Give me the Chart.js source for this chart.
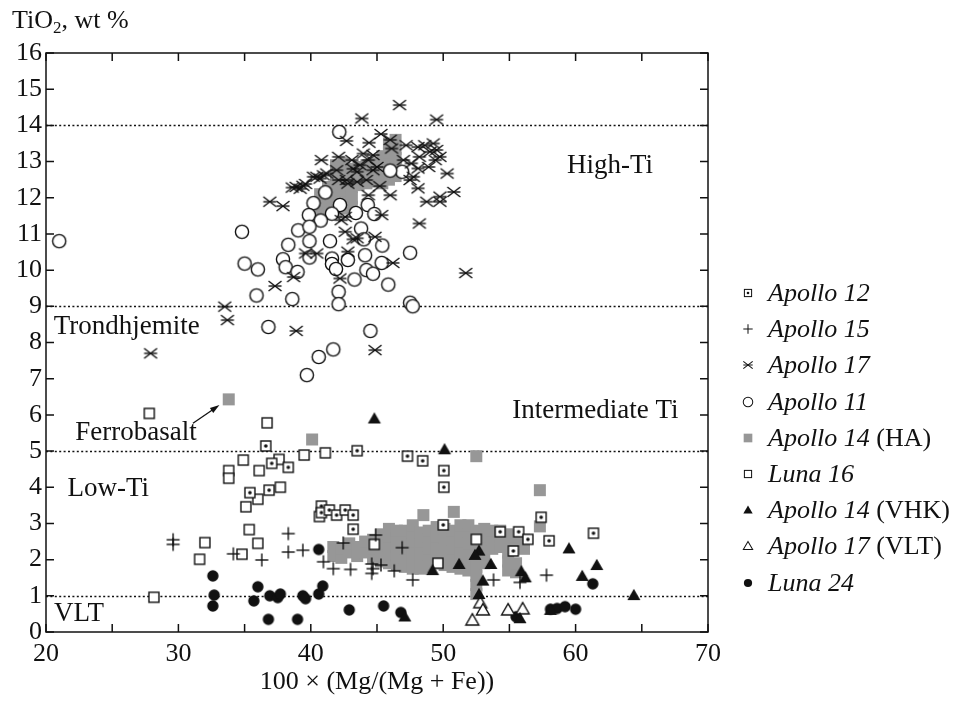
<!DOCTYPE html>
<html lang="en">
<head>
  <meta charset="UTF-8">
  <title>TiO2 vs Mg#</title>
  <script src="https://cdn.jsdelivr.net/npm/chart.js"></script>
  <style>
    body {
      margin: 0;
      background: #fff;
      font-family: "Liberation Serif", "Times New Roman", serif;
      color: #111;
    }
    #wrap {
      position: relative;
      width: 956px;
      height: 701px;
    }
    #ytitle {
      position: absolute;
      left: 12px;
      top: 7px;
      font-size: 26px;
      line-height: 1;
    }
    #ytitle sub {
      font-size: 17px;
      vertical-align: -5px;
    }
    #legend {
      position: absolute;
      left: 738px;
      top: 275px;
    }
    .row {
      height: 36.2px;
      display: flex;
      align-items: center;
      font-size: 26px;
      white-space: nowrap;
    }
  </style>
</head>
<body>
<div id="wrap">
  <canvas id="chart" width="956" height="701"></canvas>
  <div id="ytitle">TiO<sub>2</sub>, wt %</div>
  <div id="legend"></div>
</div>

<script>
// data: [100*Mg/(Mg+Fe), TiO2 wt%]
const apollo12 = [[36.6,5.14],[37.05,4.66],[38.3,4.55],[35.4,3.85],[36.85,3.92],[40.8,3.48],[40.8,3.3],
  [41.4,3.37],[41.95,3.23],[42.6,3.37],[43.2,3.23],[43.2,2.84],[43.5,5.01],[47.3,4.86],[48.45,4.73],
  [50.05,4.46],[50.05,4.0],[50.0,2.96],[54.3,2.77],[55.7,2.77],[56.4,2.56],[55.3,2.24],[57.4,3.17],
  [58.0,2.52],[61.35,2.73]];
const apollo15 = [[29.6,2.55],[29.6,2.42],[34.15,2.16],[36.3,1.99],[38.3,2.72],[38.3,2.21],[39.4,2.26],
  [40.95,1.94],[41.7,1.75],[43.0,1.73],[42.45,2.46],[44.6,1.62],[44.7,1.75],[44.6,1.88],[44.9,2.68],
  [45.3,1.85],[46.9,2.33],[46.3,1.69],[47.7,1.44],[53.8,1.44],[55.8,1.37],[57.8,1.57]];
const apollo17 = [[46.7,14.56],[43.85,14.19],[49.5,14.16],[42.7,13.57],[45.3,13.76],[44.4,13.52],[46.0,13.6],
  [46.1,13.36],[47.2,13.45],[48.1,13.4],[48.6,13.45],[49.25,13.5],[49.0,13.27],[49.5,13.32],[49.75,13.13],
  [50.3,12.67],[50.8,12.16],[49.75,12.03],[49.75,11.89],[48.75,11.89],[48.2,11.29],[36.9,11.89],[37.9,11.77],
  [38.6,12.28],[38.9,12.3],[39.2,12.25],[39.4,12.33],[39.6,12.38],[40.8,13.04],[40.45,12.58],[40.95,12.62],
  [41.2,12.67],[42.1,13.13],[41.95,12.76],[43.1,13.04],[43.97,13.22],[44.35,13.04],[44.7,13.18],[45.0,12.85],
  [43.2,12.8],[43.7,12.9],[42.8,12.39],[42.1,12.49],[43.5,12.44],[44.2,12.49],[45.2,12.32],[46.0,12.07],
  [47.0,13.04],[47.6,12.95],[48.1,12.81],[48.2,13.13],[47.5,12.49],[47.75,12.58],[48.1,12.26],[48.9,12.85],
  [49.4,13.04],[44.35,12.07],[45.35,11.52],[42.6,11.47],[42.3,11.38],[42.6,11.06],[43.5,10.88],[44.85,10.92],
  [39.6,10.46],[40.45,10.46],[42.8,10.51],[46.2,10.2],[51.7,9.92],[43.2,10.85],[42.2,9.77],[37.3,9.56],
  [38.7,9.81],[33.5,8.99],[33.7,8.62],[38.9,8.32],[44.85,7.79],[27.9,7.7],[43.5,12.72],[44.7,12.76],
  [40.2,12.58],[40.7,12.53],[42.7,12.49]];
const apollo11 = [[21.0,10.8],[42.15,13.82],[46.9,12.72],[46.0,12.75],[41.1,12.15],[40.2,11.85],[42.2,11.8],
  [44.3,11.8],[43.4,11.58],[44.8,11.55],[39.85,11.52],[41.6,11.56],[40.75,11.37],[34.8,11.06],[39.05,11.1],
  [39.9,11.2],[43.8,11.15],[44.0,10.85],[38.3,10.7],[39.9,10.8],[41.45,10.8],[45.4,10.68],[47.5,10.48],
  [35.0,10.18],[36.0,10.02],[37.9,10.3],[38.1,10.08],[39.0,9.95],[39.9,10.35],[41.6,10.32],[41.6,10.17],
  [42.8,10.28],[44.1,10.41],[45.35,10.2],[41.9,10.03],[43.3,9.74],[44.2,10.0],[44.7,9.9],[45.85,9.6],
  [35.9,9.3],[38.6,9.2],[42.1,9.4],[42.1,9.06],[47.5,9.1],[47.7,9.0],[36.8,8.43],[44.5,8.32],[41.7,7.81],
  [40.6,7.6],[39.7,7.1]];
// Apollo 14 high-alumina: squares overlap into grey patches
const apollo14HA = [
  [41.7,2.1],[41.7,2.35],[42.3,2.05],[42.3,2.3],[42.9,2.2],[42.9,2.45],[43.5,2.1],[43.5,2.35],
  [44.1,2.2],[44.1,2.5],[44.7,2.05],[44.7,2.3],[44.7,2.55],[45.3,1.95],[45.3,2.2],[45.3,2.45],[45.3,2.7],
  [45.9,1.9],[45.9,2.15],[45.9,2.4],[45.9,2.65],[45.9,2.85],[46.5,1.85],[46.5,2.1],[46.5,2.35],[46.5,2.6],
  [46.5,2.8],[47.1,1.8],[47.1,2.05],[47.1,2.3],[47.1,2.55],[47.1,2.8],[47.7,1.75],[47.7,2.0],[47.7,2.25],
  [47.7,2.5],[47.7,2.75],[47.7,2.95],[48.3,1.75],[48.3,2.0],[48.3,2.25],[48.3,2.5],[48.3,2.75],[48.5,3.23],
  [48.9,1.8],[48.9,2.05],[48.9,2.3],[48.9,2.55],[48.9,2.8],[49.5,1.9],[49.5,2.15],[49.5,2.4],[49.5,2.65],
  [49.5,2.9],[50.1,1.85],[50.1,2.1],[50.1,2.35],[50.1,2.6],[50.1,2.85],[50.8,3.32],[50.7,1.8],[50.7,2.05],
  [50.7,2.3],[50.7,2.55],[50.7,2.8],[51.3,1.75],[51.3,2.0],[51.3,2.25],[51.3,2.5],[51.3,2.75],[51.3,2.95],
  [51.9,1.7],[51.9,1.95],[51.9,2.2],[51.9,2.45],[51.9,2.7],[51.9,2.95],[52.5,1.05],[52.5,1.3],[52.5,1.55],
  [52.5,1.8],[52.5,2.05],[52.5,2.3],[52.5,2.55],[52.5,2.8],[53.1,1.9],[53.1,2.15],[53.1,2.4],[53.1,2.65],
  [53.1,2.85],[53.7,2.3],[53.7,2.55],[53.7,2.8],[54.3,2.35],[54.3,2.6],[54.3,2.8],[54.9,1.7],[54.9,1.95],
  [54.9,2.2],[54.9,2.45],[54.9,2.7],[55.5,1.65],[55.5,1.9],[55.5,2.4],[55.5,2.65],[56.1,2.3],[56.1,2.55],
  [57.3,2.92],[52.5,4.86],[57.3,3.92],[33.8,6.43],[40.1,5.32],
  [40.7,11.6],[40.7,11.85],[40.7,12.1],[41.3,11.55],[41.3,11.8],[41.3,12.05],[41.3,12.3],[41.9,11.6],
  [41.9,11.85],[41.9,12.1],[41.9,12.4],[41.9,12.65],[41.9,12.9],[42.5,11.7],[42.5,11.95],[42.5,12.2],
  [42.5,12.45],[42.5,12.7],[42.5,12.95],[43.1,11.75],[43.1,12.0],[43.1,12.3],[43.1,12.55],[43.1,12.8],
  [43.6,12.35],[43.6,12.6],[43.6,12.85],[44.2,12.4],[44.2,12.65],[44.2,12.9],[44.8,12.45],[44.8,12.7],
  [44.8,12.95],[45.4,12.4],[45.4,12.65],[45.4,12.9],[45.4,13.15],[45.9,12.5],[45.9,12.75],[45.9,13.0],
  [45.9,13.25],[45.9,13.5],[46.4,12.6],[46.4,12.85],[46.4,13.1],[46.4,13.35],[46.4,13.6]];
const luna16 = [[27.8,6.04],[36.7,5.78],[39.5,4.89],[41.1,4.95],[34.9,4.75],[33.8,4.46],[33.8,4.25],[36.1,4.46],
  [37.6,4.77],[37.7,4.0],[36.0,3.67],[35.1,3.46],[35.35,2.83],[36.0,2.45],[34.8,2.15],[32.0,2.47],[31.6,2.01],
  [28.15,0.96],[40.65,3.19],[52.5,2.56],[49.6,1.9],[44.8,2.42]];
const apollo14VHK = [[44.8,5.9],[50.1,5.05],[59.5,2.31],[52.7,2.25],[52.4,2.13],[51.2,1.88],[49.2,1.71],
  [53.6,1.88],[55.9,1.68],[56.2,1.51],[53.0,1.42],[52.7,1.05],[60.5,1.55],[61.6,1.85],[64.4,1.02],
  [55.8,0.38],[58.1,0.61],[47.1,0.43]];
const apollo17VLT = [[52.8,0.81],[53.0,0.61],[52.2,0.33],[54.9,0.61],[56.0,0.64]];
const luna24 = [[32.6,1.55],[32.7,1.02],[32.6,0.72],[36.0,1.25],[35.7,0.86],[36.9,1.0],[37.5,0.95],[37.7,1.05],
  [36.8,0.35],[39.0,0.35],[39.4,1.0],[39.6,0.92],[40.6,1.05],[40.9,1.27],[40.6,2.28],[42.9,0.61],[45.5,0.72],
  [46.8,0.54],[55.5,0.42],[58.1,0.63],[58.6,0.65],[59.2,0.7],[60.0,0.63],[61.3,1.33]];

const boundaries = [1, 5, 9, 14];
const xTicks = [20, 30, 40, 50, 60, 70];
const regionLabels = [
  { text: 'High-Ti', x: 62.6, y: 12.87 },
  { text: 'Trondhjemite', x: 26.1, y: 8.43 },
  { text: 'Intermediate Ti', x: 61.5, y: 6.1 },
  { text: 'Ferrobasalt', x: 26.8, y: 5.5 },
  { text: 'Low-Ti', x: 24.7, y: 3.95 },
  { text: 'VLT', x: 22.5, y: 0.5 }
];
const arrowFrom = [31.1, 5.77];
const arrowTo = [33.1, 6.27];

const INK = '#111';
const GREY = '#979797';

function marker(kind, s) {
  const size = Math.ceil(16 * s) + 2;
  const c = document.createElement('canvas');
  c.width = size; c.height = size;
  const g = c.getContext('2d');
  g.translate(size / 2, size / 2);
  g.scale(s, s);
  g.lineWidth = 1.4;
  g.strokeStyle = INK;
  g.fillStyle = '#fff';
  const line = (a, b, cc, d) => { g.beginPath(); g.moveTo(a, b); g.lineTo(cc, d); g.stroke(); };
  if (kind === 'a12') {
    g.fillRect(-5, -5, 10, 10); g.strokeRect(-5, -5, 10, 10);
    g.fillStyle = INK; g.beginPath(); g.arc(0, 0, 1.8, 0, Math.PI * 2); g.fill();
  } else if (kind === 'plus') {
    line(-6.5, 0, 6.5, 0); line(0, -6.5, 0, 6.5);
  } else if (kind === 'star') {
    line(-6.5, -5, 6.5, 5); line(-6.5, 5, 6.5, -5); line(-6.5, 0, 6.5, 0);
  } else if (kind === 'circle') {
    g.beginPath(); g.arc(0, 0, 6.6, 0, Math.PI * 2); g.fill(); g.stroke();
  } else if (kind === 'ha') {
    g.fillStyle = GREY; g.fillRect(-6, -6, 12, 12);
  } else if (kind === 'l16') {
    g.fillRect(-5, -5, 10, 10); g.strokeRect(-5, -5, 10, 10);
  } else if (kind === 'vhk' || kind === 'vlt') {
    g.beginPath(); g.moveTo(0, -6.3); g.lineTo(6.5, 5); g.lineTo(-6.5, 5); g.closePath();
    if (kind === 'vhk') { g.fillStyle = INK; g.fill(); } else { g.fill(); g.stroke(); }
  } else if (kind === 'l24') {
    g.fillStyle = INK; g.beginPath(); g.arc(0, 0, 5.7, 0, Math.PI * 2); g.fill();
  }
  return c;
}

const series = [
  { label: 'Apollo 12', extra: '', kind: 'a12', data: apollo12 },
  { label: 'Apollo 15', extra: '', kind: 'plus', data: apollo15 },
  { label: 'Apollo 17', extra: '', kind: 'star', data: apollo17 },
  { label: 'Apollo 11', extra: '', kind: 'circle', data: apollo11 },
  { label: 'Apollo 14', extra: ' (HA)', kind: 'ha', data: apollo14HA },
  { label: 'Luna 16', extra: '', kind: 'l16', data: luna16 },
  { label: 'Apollo 14', extra: ' (VHK)', kind: 'vhk', data: apollo14VHK },
  { label: 'Apollo 17', extra: ' (VLT)', kind: 'vlt', data: apollo17VLT },
  { label: 'Luna 24', extra: '', kind: 'l24', data: luna24 }
];

// higher order is drawn first: grey HA patches at the bottom
const drawOrder = { ha: 9, circle: 5, star: 4, l16: 3, a12: 2, plus: 3, vhk: 1, vlt: 1, l24: 1 };

const legend = document.getElementById('legend');
series.forEach(s => {
  const row = document.createElement('div');
  row.className = 'row';
  const box = document.createElement('div');
  box.style.cssText = 'width:20px;display:flex;justify-content:center;margin-right:10px';
  box.appendChild(marker(s.kind, 0.72));
  row.appendChild(box);
  const t = document.createElement('span');
  t.innerHTML = '<i>' + s.label + '</i>' + s.extra;
  row.appendChild(t);
  legend.appendChild(row);
});

const frame = {
  id: 'frame',
  beforeDatasetsDraw(chart) {
    const { ctx, chartArea: a, scales: { y } } = chart;
    ctx.save();
    ctx.strokeStyle = INK;
    ctx.lineWidth = 1.7;
    ctx.setLineDash([2, 2.4]);
    boundaries.forEach(v => {
      const py = Math.round(y.getPixelForValue(v)) + 0.5;
      ctx.beginPath(); ctx.moveTo(a.left, py); ctx.lineTo(a.right, py); ctx.stroke();
    });
    ctx.restore();
  },
  afterDatasetsDraw(chart) {
    const { ctx, chartArea: a, scales: { x, y } } = chart;
    ctx.save();
    ctx.strokeStyle = INK;
    ctx.lineWidth = 1.5;
    ctx.strokeRect(a.left, a.top, a.right - a.left, a.bottom - a.top);
    ctx.beginPath();
    for (let v = x.min; v <= x.max; v += 5) {
      const px = x.getPixelForValue(v);
      ctx.moveTo(px, a.bottom); ctx.lineTo(px, a.bottom - 8);
      ctx.moveTo(px, a.top); ctx.lineTo(px, a.top + 8);
    }
    for (let v = y.min; v <= y.max; v += 1) {
      const py = y.getPixelForValue(v);
      ctx.moveTo(a.left, py); ctx.lineTo(a.left + 8, py);
      ctx.moveTo(a.right, py); ctx.lineTo(a.right - 8, py);
    }
    ctx.stroke();

    ctx.fillStyle = INK;
    ctx.font = '27px "Liberation Serif", "Times New Roman", serif';
    ctx.textAlign = 'center';
    ctx.textBaseline = 'middle';
    regionLabels.forEach(l => {
      ctx.fillText(l.text, x.getPixelForValue(l.x), y.getPixelForValue(l.y));
    });

    // arrow to the ferrobasalt point
    const x0 = x.getPixelForValue(arrowFrom[0]), y0 = y.getPixelForValue(arrowFrom[1]);
    const x1 = x.getPixelForValue(arrowTo[0]), y1 = y.getPixelForValue(arrowTo[1]);
    const ang = Math.atan2(y1 - y0, x1 - x0);
    ctx.lineWidth = 1.3;
    ctx.beginPath(); ctx.moveTo(x0, y0); ctx.lineTo(x1 - 6 * Math.cos(ang), y1 - 6 * Math.sin(ang)); ctx.stroke();
    ctx.beginPath();
    ctx.moveTo(x1, y1);
    ctx.lineTo(x1 - 10 * Math.cos(ang - 0.3), y1 - 10 * Math.sin(ang - 0.3));
    ctx.lineTo(x1 - 10 * Math.cos(ang + 0.3), y1 - 10 * Math.sin(ang + 0.3));
    ctx.closePath(); ctx.fill();
    ctx.restore();
  }
};

Chart.defaults.font.family = '"Liberation Serif", "Times New Roman", serif';
Chart.defaults.color = INK;

new Chart(document.getElementById('chart'), {
  type: 'scatter',
  data: {
    datasets: series.map(s => ({
      label: s.label + s.extra,
      data: s.data.map(p => ({ x: p[0], y: p[1] })),
      pointStyle: marker(s.kind, 1),
      pointRadius: 6,
      order: drawOrder[s.kind]
    }))
  },
  options: {
    responsive: false,
    animation: false,
    events: [],
    layout: { padding: { left: 0, right: 248, top: 53, bottom: 0 } },
    plugins: { legend: { display: false }, tooltip: { enabled: false } },
    scales: {
      x: {
        type: 'linear',
        min: 20, max: 70,
        afterBuildTicks: s => { s.ticks = xTicks.map(v => ({ value: v })); },
        afterFit: s => { s.height = 69; },
        grid: { display: false, drawTicks: false },
        border: { display: false },
        ticks: { padding: 7, font: { size: 26 }, color: INK },
        title: { display: true, text: '100 × (Mg/(Mg + Fe))', font: { size: 26 }, color: INK, padding: { top: 0, bottom: 3 } }
      },
      y: {
        min: 0, max: 16,
        afterFit: s => { s.width = 46; },
        grid: { display: false, drawTicks: false },
        border: { display: false },
        ticks: { stepSize: 1, padding: 4, font: { size: 26 }, color: INK }
      }
    }
  },
  plugins: [frame]
});
</script>
</body>
</html>
